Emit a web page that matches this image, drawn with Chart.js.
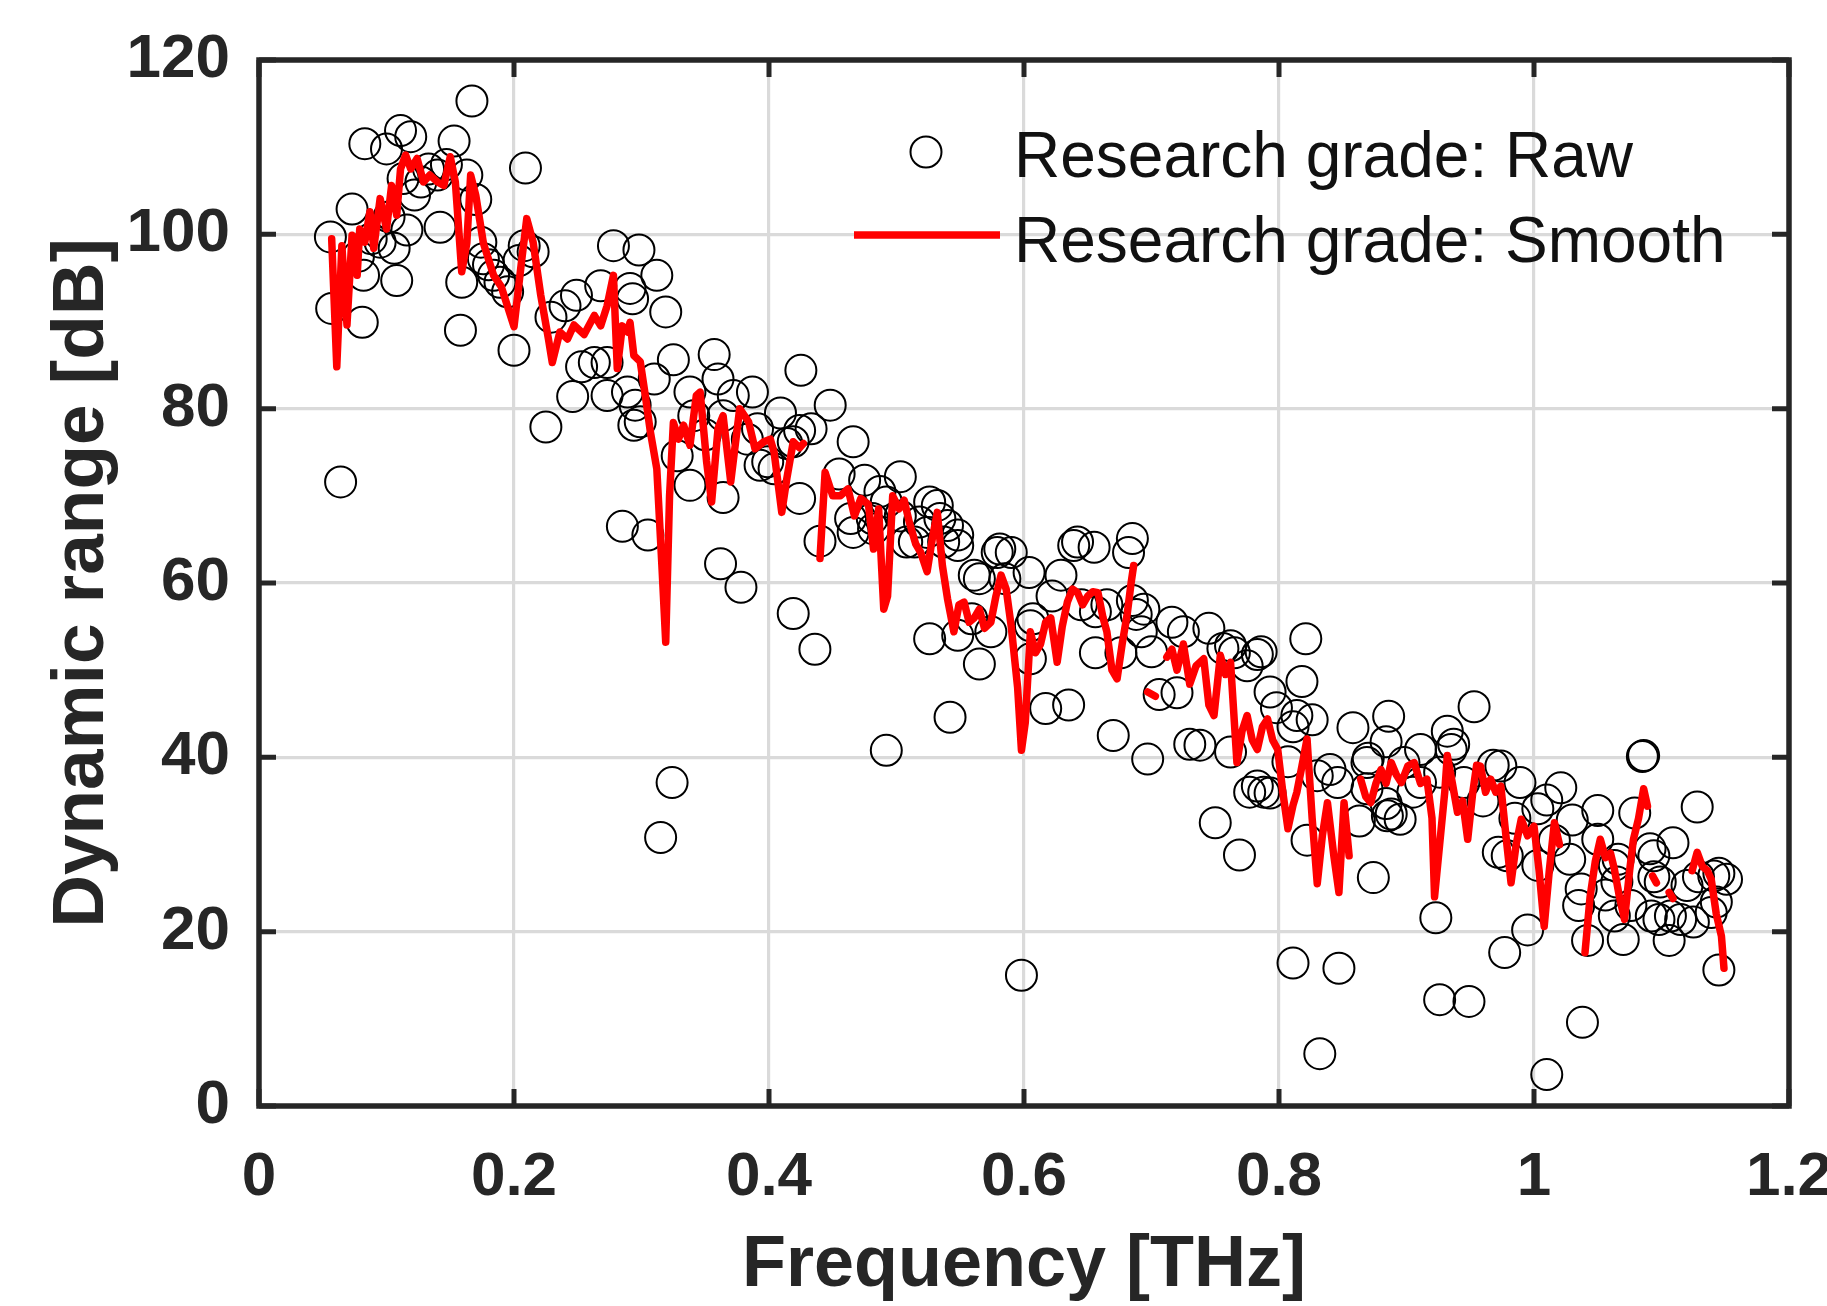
<!DOCTYPE html>
<html>
<head>
<meta charset="utf-8">
<script src="https://cdn.jsdelivr.net/npm/chart.js@4.4.1/dist/chart.umd.min.js"></script>
<style>
  html, body { margin: 0; padding: 0; background: #ffffff; }
  canvas { display: block; }
</style>
</head>
<body>
<canvas id="c" width="1827" height="1306"></canvas>
<script>
// ---------------- data ----------------
const seriesLabels = ['Research grade: Raw', 'Research grade: Smooth'];
const xTitle = 'Frequency [THz]';
const yTitle = 'Dynamic range [dB]';
const xTickValues = [0, 0.2, 0.4, 0.6, 0.8, 1, 1.2];
const xTickLabels = ['0', '0.2', '0.4', '0.6', '0.8', '1', '1.2'];
const yTickValues = [0, 20, 40, 60, 80, 100, 120];
const yTickLabels = ['0', '20', '40', '60', '80', '100', '120'];

// raw measurements (circles)
const rawFreq = [
  0.056, 0.057, 0.064, 0.073, 0.078, 0.081, 0.082, 0.083, 0.088, 0.095,
  0.100, 0.102, 0.106, 0.108, 0.111, 0.113, 0.116, 0.119, 0.122, 0.127,
  0.133, 0.140, 0.142, 0.147, 0.153, 0.158, 0.159, 0.163, 0.167, 0.170,
  0.174, 0.176, 0.180, 0.184, 0.189, 0.195, 0.200, 0.204, 0.208, 0.209,
  0.215, 0.225, 0.229, 0.240, 0.246, 0.249, 0.253, 0.263, 0.268, 0.273,
  0.273, 0.278, 0.285, 0.289, 0.291, 0.293, 0.294, 0.295, 0.298, 0.299,
  0.305, 0.310, 0.312, 0.315, 0.319, 0.324, 0.325, 0.328, 0.338, 0.338,
  0.341, 0.350, 0.357, 0.360, 0.362, 0.364, 0.364, 0.372, 0.378, 0.383,
  0.387, 0.391, 0.393, 0.399, 0.404, 0.409, 0.414, 0.419, 0.419, 0.424,
  0.424, 0.425, 0.433, 0.436, 0.440, 0.448, 0.455, 0.464, 0.466, 0.466,
  0.475, 0.481, 0.482, 0.487, 0.492, 0.492, 0.503, 0.503, 0.508, 0.514,
  0.518, 0.524, 0.526, 0.526, 0.532, 0.534, 0.537, 0.540, 0.542, 0.548,
  0.548, 0.548, 0.559, 0.561, 0.565, 0.565, 0.574, 0.579, 0.581, 0.585,
  0.590, 0.598, 0.604, 0.605, 0.605, 0.607, 0.617, 0.622, 0.629, 0.635,
  0.639, 0.642, 0.645, 0.655, 0.656, 0.656, 0.665, 0.670, 0.676, 0.682,
  0.685, 0.685, 0.688, 0.692, 0.694, 0.697, 0.700, 0.706, 0.716, 0.720,
  0.725, 0.730, 0.738, 0.745, 0.750, 0.756, 0.762, 0.762, 0.765, 0.769,
  0.775, 0.777, 0.783, 0.783, 0.786, 0.788, 0.793, 0.793, 0.798, 0.807,
  0.811, 0.811, 0.814, 0.818, 0.821, 0.822, 0.826, 0.830, 0.832, 0.840,
  0.846, 0.847, 0.858, 0.863, 0.869, 0.869, 0.870, 0.874, 0.884, 0.884,
  0.885, 0.886, 0.888, 0.895, 0.898, 0.905, 0.911, 0.911, 0.923, 0.926,
  0.926, 0.932, 0.935, 0.937, 0.945, 0.949, 0.953, 0.960, 0.968, 0.972,
  0.974, 0.977, 0.979, 0.985, 0.989, 0.995, 1.003, 1.003, 1.010, 1.010,
  1.016, 1.021, 1.028, 1.030, 1.035, 1.037, 1.038, 1.042, 1.050, 1.050,
  1.056, 1.063, 1.063, 1.065, 1.066, 1.070, 1.076, 1.079, 1.085, 1.086,
  1.091, 1.092, 1.094, 1.094, 1.098, 1.099, 1.106, 1.107, 1.109, 1.115,
  1.120, 1.125, 1.128, 1.129, 1.139, 1.141, 1.143, 1.145, 1.145, 1.151
];
const rawDB = [
  99.7, 91.5, 71.6, 102.9, 97.5, 89.9, 95.3, 110.4, 99.5, 99.1,
  109.8, 102.0, 98.4, 94.7, 111.9, 106.4, 100.5, 111.2, 104.5, 106.0,
  107.5, 106.8, 100.8, 108.0, 110.7, 89.0, 94.5, 106.8, 115.3, 104.0,
  99.1, 97.2, 96.5, 95.3, 94.5, 93.4, 86.7, 97.0, 98.7, 107.6,
  98.0, 77.9, 90.5, 91.8, 81.4, 93.0, 84.8, 85.3, 94.1, 81.5,
  85.3, 98.7, 66.5, 81.9, 93.8, 92.6, 78.1, 80.4, 98.2, 78.5,
  65.5, 83.4, 95.3, 30.8, 91.1, 37.1, 85.6, 74.6, 71.2, 81.9,
  79.2, 77.0, 86.2, 83.4, 62.2, 69.8, 79.2, 81.5, 59.5, 76.5,
  81.9, 77.7, 73.5, 73.9, 73.1, 79.5, 76.0, 76.2, 56.5, 77.5,
  69.7, 84.4, 77.7, 52.4, 64.8, 80.4, 72.5, 67.4, 76.2, 65.8,
  71.8, 67.4, 66.2, 70.5, 69.3, 40.8, 67.7, 72.2, 64.7, 64.7,
  67.0, 65.8, 69.3, 53.6, 68.9, 67.4, 64.7, 66.6, 44.6, 65.5,
  64.3, 54.0, 55.9, 60.9, 60.5, 50.7, 54.4, 63.5, 63.9, 60.5,
  63.5, 15.0, 61.2, 55.1, 51.3, 55.9, 45.6, 58.5, 60.9, 46.0,
  64.3, 64.7, 57.5, 64.1, 52.0, 56.7, 57.5, 42.5, 52.0, 63.5,
  65.1, 58.0, 56.4, 54.4, 57.0, 39.8, 52.1, 47.2, 55.5, 47.4,
  54.4, 41.5, 41.4, 54.8, 32.5, 52.5, 52.8, 40.6, 52.0, 28.8,
  50.5, 36.0, 51.8, 36.7, 52.1, 36.0, 47.5, 35.9, 45.7, 39.5,
  43.5, 16.4, 44.8, 48.7, 53.6, 30.5, 44.3, 37.9, 6.0, 38.6,
  37.1, 15.8, 43.4, 32.7, 39.4, 36.4, 39.9, 26.2, 41.8, 34.7,
  33.3, 44.7, 33.5, 32.9, 39.4, 36.0, 40.9, 37.1, 21.6, 38.3,
  12.2, 43.0, 40.9, 41.5, 37.1, 12.0, 45.8, 35.0, 39.1, 29.1,
  39.0, 17.6, 28.7, 33.0, 37.1, 20.2, 34.1, 27.6, 3.6, 35.1,
  30.5, 36.5, 28.3, 32.8, 23.0, 24.9, 9.6, 19.0, 33.9, 30.6,
  24.2, 27.6, 21.8, 25.7, 28.3, 19.1, 23.0, 33.6, 40.1, 40.2,
  29.5, 21.8, 26.3, 28.7, 21.4, 25.7, 19.0, 21.8, 30.2, 21.4,
  25.3, 21.1, 34.3, 26.3, 22.2, 26.4, 23.4, 26.7, 15.6, 26.0
];

// smoothed curve (null = gap in the line)
const smoothFreq = [
  0.057, 0.061, 0.065, 0.069, 0.073, 0.077, 0.079, 0.083, 0.087, 0.090,
  0.095, 0.100, 0.104, 0.108, 0.111, 0.115, 0.119, 0.124, 0.129, 0.134,
  0.140, 0.145, 0.150, 0.154, 0.159, 0.163, 0.166, 0.170, 0.176, 0.184,
  0.190, 0.195, 0.200, 0.206, 0.210, 0.215, 0.221, 0.227, 0.230, 0.236,
  0.242, 0.247, 0.255, 0.263, 0.268, 0.273, 0.278, 0.281, 0.285, 0.289,
  0.291, 0.294, 0.299, 0.303, 0.307, 0.312, 0.316, 0.319, 0.322, 0.325,
  0.329, 0.333, 0.338, 0.343, 0.346, 0.351, 0.355, 0.360, 0.364, 0.370,
  0.377, 0.384, 0.389, 0.396, 0.401, 0.404, 0.410, 0.414, 0.419, 0.424,
  0.427, null,
  0.440, 0.444, 0.450, 0.456, 0.462, 0.467, 0.472, 0.478, 0.482, 0.486,
  0.490, 0.493, 0.497, 0.502, 0.506, 0.510, 0.515, 0.519, 0.524, 0.528,
  0.532, 0.536, 0.540, 0.545, 0.549, 0.553, 0.557, 0.561, 0.565, 0.569,
  0.574, 0.578, 0.582, 0.586, 0.590, 0.595, 0.598, 0.601, 0.605, 0.609,
  0.613, 0.617, 0.621, 0.626, 0.630, 0.634, 0.638, 0.642, 0.646, 0.650,
  0.654, 0.658, 0.662, 0.665, 0.669, 0.673, 0.677, 0.681, 0.684, 0.686,
  null, 0.697, 0.703, null,
  0.712, 0.716, 0.720, 0.725, 0.730, 0.735, 0.741, 0.745, 0.749, 0.754,
  0.758, 0.762, 0.767, 0.771, 0.775, 0.779, 0.783, 0.787, 0.791, 0.795,
  0.799, 0.803, 0.807, 0.811, 0.814, 0.818, 0.822, 0.826, 0.830, 0.834,
  0.838, 0.843, 0.847, 0.851, 0.855, null,
  0.864, 0.868, 0.872, 0.876, 0.880, 0.884, 0.888, 0.892, 0.896, 0.901,
  0.906, 0.911, 0.916, 0.920, 0.922, 0.926, 0.930, 0.932, 0.936, 0.940,
  0.944, 0.948, 0.952, 0.955, 0.958, 0.962, 0.966, 0.970, 0.974, 0.978,
  0.982, 0.986, 0.990, 0.995, 1.000, 1.004, 1.008, 1.012, 1.016, 1.020,
  null,
  1.040, 1.044, 1.048, 1.052, 1.056, 1.060, 1.063, 1.067, 1.071, 1.075,
  1.078, 1.082, 1.086, 1.089, null, 1.093, 1.096, null, 1.106, 1.109, null,
  1.124, 1.128, 1.132, 1.136, 1.139, 1.143, 1.147, 1.149
];
const smoothDB = [
  99.5, 84.8, 98.7, 89.6, 99.9, 95.3, 100.6, 99.1, 102.6, 98.4,
  104.1, 100.6, 105.6, 102.2, 107.5, 109.1, 107.5, 108.7, 106.0, 106.8,
  106.0, 105.6, 108.9, 106.0, 95.7, 99.0, 106.8, 104.5, 99.0, 95.3,
  94.0, 91.7, 89.4, 97.0, 101.8, 99.1, 93.0, 88.0, 85.3, 88.8,
  88.0, 89.6, 88.5, 90.7, 89.5, 91.8, 95.3, 84.6, 89.5, 88.8,
  89.9, 86.1, 85.4, 81.5, 77.3, 73.1, 62.0, 53.2, 70.0, 78.4,
  76.5, 78.1, 75.8, 81.5, 81.9, 74.0, 69.3, 77.7, 79.2, 71.6,
  80.0, 78.5, 75.4, 76.2, 76.5, 75.0, 68.1, 72.0, 76.2, 75.5,
  76.0, null,
  62.8, 72.7, 70.0, 70.0, 70.8, 67.7, 69.7, 69.0, 63.9, 68.5,
  57.0, 58.5, 70.0, 68.5, 69.5, 67.0, 64.5, 63.5, 61.3, 65.0,
  68.1, 62.0, 58.2, 54.4, 57.5, 57.8, 55.5, 56.0, 57.0, 54.8,
  55.5, 58.5, 60.9, 59.3, 55.0, 48.0, 40.8, 44.0, 54.4, 52.0,
  53.0, 55.5, 56.0, 50.9, 55.0, 57.8, 59.3, 58.9, 57.5, 58.5,
  59.0, 58.9, 56.0, 54.4, 50.0, 49.0, 53.0, 56.5, 60.0, 62.0,
  null, 47.5, 47.0, null,
  51.5, 52.4, 50.0, 53.0, 48.4, 50.5, 51.3, 46.0, 44.8, 51.7,
  49.5, 50.9, 39.4, 43.0, 44.8, 42.0, 40.9, 43.5, 44.4, 42.0,
  40.9, 36.0, 31.8, 34.5, 36.0, 39.0, 42.1, 33.0, 25.5, 31.0,
  34.8, 28.7, 24.5, 34.8, 28.7, null,
  37.5, 35.5, 34.8, 37.0, 38.6, 37.0, 39.4, 38.0, 37.1, 39.0,
  39.4, 37.0, 37.5, 33.0, 24.0, 30.0, 36.0, 40.2, 37.0, 33.7,
  35.0, 30.6, 36.0, 39.1, 39.0, 36.0, 37.5, 36.0, 36.7, 31.0,
  25.6, 30.0, 32.9, 31.0, 32.1, 27.0, 20.6, 27.0, 32.5, 30.0,
  null,
  17.6, 24.0, 28.0, 30.6, 28.5, 29.0, 27.2, 24.0, 21.4, 27.0,
  30.6, 33.0, 36.4, 34.4, null, 26.4, 25.6, null, 24.5, 23.8, null,
  27.0, 29.1, 27.5, 27.0, 26.0, 22.0, 19.5, 15.8
];

// ---------------- chart ----------------
const FONT = "'Liberation Sans', Arial, Helvetica, sans-serif";
const INK = '#262626';

const rawPoints = rawFreq.map((f, i) => ({ x: f, y: rawDB[i] }));
const smoothPoints = smoothFreq.map((f, i) => ({ x: f, y: smoothDB[i] }));

const framePlugin = {
  id: 'frameAndLegend',
  afterDatasetsDraw(chart) {
    const { ctx, chartArea: a, scales } = chart;
    const xs = scales.x, ys = scales.y;
    ctx.save();
    ctx.strokeStyle = INK;
    ctx.lineWidth = 5;
    ctx.lineCap = 'butt';
    const tl = 17;
    ctx.beginPath();
    xTickValues.forEach(v => {
      const px = xs.getPixelForValue(v);
      ctx.moveTo(px, a.bottom); ctx.lineTo(px, a.bottom - tl);
      ctx.moveTo(px, a.top); ctx.lineTo(px, a.top + tl);
    });
    yTickValues.forEach(v => {
      const py = ys.getPixelForValue(v);
      ctx.moveTo(a.left, py); ctx.lineTo(a.left + tl, py);
      ctx.moveTo(a.right, py); ctx.lineTo(a.right - tl, py);
    });
    ctx.stroke();
    ctx.lineWidth = 5.5;
    ctx.strokeRect(a.left, a.top, a.right - a.left, a.bottom - a.top);

    // legend (inside axes, no box)
    const ds = chart.data.datasets;
    ctx.font = "64px " + FONT;
    ctx.fillStyle = '#111111';
    ctx.textAlign = 'left';
    ctx.textBaseline = 'middle';
    const textX = 1014;
    const row1 = 159, row2 = 244;
    ctx.beginPath();
    ctx.lineWidth = 2;
    ctx.strokeStyle = '#000000';
    ctx.arc(926, 152, 15.5, 0, Math.PI * 2);
    ctx.stroke();
    ctx.fillText(ds[0].label, textX, row1);
    ctx.beginPath();
    ctx.lineWidth = 7.5;
    ctx.strokeStyle = '#ff0000';
    ctx.moveTo(854, 235); ctx.lineTo(1000, 235);
    ctx.stroke();
    ctx.fillText(ds[1].label, textX, row2);
    ctx.restore();
  }
};

new Chart(document.getElementById('c').getContext('2d'), {
  type: 'scatter',
  data: {
    datasets: [
      {
        label: seriesLabels[0],
        data: rawPoints,
        showLine: false,
        pointStyle: 'circle',
        pointRadius: 15.5,
        pointHoverRadius: 15.5,
        pointBorderWidth: 2,
        pointBorderColor: '#000000',
        pointBackgroundColor: 'rgba(0,0,0,0)',
        order: 2
      },
      {
        label: seriesLabels[1],
        data: smoothPoints,
        showLine: true,
        spanGaps: false,
        borderColor: '#ff0000',
        borderWidth: 7.5,
        borderJoinStyle: 'round',
        borderCapStyle: 'round',
        pointRadius: 0,
        pointHoverRadius: 0,
        tension: 0,
        order: 1
      }
    ]
  },
  options: {
    responsive: false,
    animation: false,
    devicePixelRatio: 1,
    events: [],
    layout: { padding: { top: 60, right: 38, left: 0, bottom: 0 } },
    plugins: { legend: { display: false }, tooltip: { enabled: false } },
    scales: {
      x: {
        type: 'linear',
        min: 0, max: 1.2,
        afterBuildTicks: s => { s.ticks = xTickValues.map(v => ({ value: v })); },
        afterFit: s => { s.height = 200; s.paddingLeft = 0; s.paddingRight = 0; },
        ticks: {
          callback: (v, i) => xTickLabels[i],
          font: { family: FONT, size: 62, weight: 'bold' },
          color: INK, padding: 35, maxRotation: 0, autoSkip: false
        },
        grid: { color: '#dadada', lineWidth: 3.2, drawTicks: false },
        border: { display: false },
        title: {
          display: true, text: xTitle, color: INK,
          font: { family: FONT, size: 72, weight: 'bold', lineHeight: 1.1 },
          padding: { top: 0, bottom: 0 }
        }
      },
      y: {
        type: 'linear',
        min: 0, max: 120,
        afterBuildTicks: s => { s.ticks = yTickValues.map(v => ({ value: v })); },
        afterFit: s => { s.width = 259; s.paddingTop = 0; s.paddingBottom = 0; },
        ticks: {
          callback: (v, i) => yTickLabels[i],
          font: { family: FONT, size: 62, weight: 'bold' },
          color: INK, padding: 29, autoSkip: false
        },
        grid: { color: '#dadada', lineWidth: 3.2, drawTicks: false },
        border: { display: false },
        title: {
          display: true, text: yTitle, color: INK,
          font: { family: FONT, size: 73, weight: 'bold' },
          padding: { top: 39, bottom: 0 }
        }
      }
    }
  },
  plugins: [framePlugin]
});
</script>
</body>
</html>
